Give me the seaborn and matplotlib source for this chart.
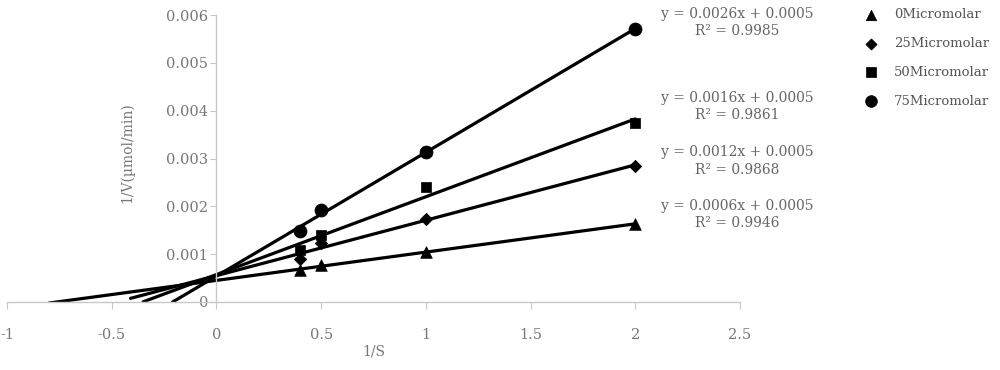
import numpy as np
import pandas as pd
import seaborn as sns
import matplotlib.pyplot as plt

# data
inv_s = [0.4, 0.5, 1, 2]
inv_v_0 = [0.00066, 0.00077, 0.00105, 0.00163]
inv_v_25 = [0.00090, 0.00123, 0.00174, 0.00285]
inv_v_50 = [0.00108, 0.00140, 0.00241, 0.00375]
inv_v_75 = [0.00149, 0.00192, 0.00314, 0.00571]
series_names = ["0Micromolar", "25Micromolar", "50Micromolar", "75Micromolar"]
# trendline backward forecast start (1/S)
line_start = [-0.80, -0.41, -0.35, -0.21]
equations = [
    "y = 0.0006x + 0.0005\nR² = 0.9946",
    "y = 0.0012x + 0.0005\nR² = 0.9868",
    "y = 0.0016x + 0.0005\nR² = 0.9861",
    "y = 0.0026x + 0.0005\nR² = 0.9985",
]

df = pd.DataFrame({
    "1/S": inv_s * 4,
    "1/V": inv_v_0 + inv_v_25 + inv_v_50 + inv_v_75,
    "series": np.repeat(series_names, len(inv_s)),
})

sns.set_style("white")
plt.rcParams["font.family"] = ["DejaVu Serif"]

markers = {"0Micromolar": "^", "25Micromolar": "D", "50Micromolar": "s", "75Micromolar": "o"}
msizes = {"0Micromolar": 70, "25Micromolar": 40, "50Micromolar": 52, "75Micromolar": 88}
eq_y = [0.420, 0.565, 0.712, 0.939]

fig = plt.figure(figsize=(10, 3.7), dpi=100)
ax = fig.add_axes([0.007, 0.184, 0.733, 0.775])

for name, start in zip(series_names, line_start):
    sub = df[df["series"] == name]
    slope, icpt = np.polyfit(sub["1/S"], sub["1/V"], 1)
    xs = np.array([start, sub["1/S"].max()])
    sns.lineplot(x=xs, y=slope * xs + icpt, color="black", lw=2.3, ax=ax, zorder=2)
    sns.scatterplot(data=sub, x="1/S", y="1/V", marker=markers[name], s=msizes[name],
                    color="black", edgecolor="black", linewidth=0.5, ax=ax,
                    label=name, zorder=3, clip_on=False)

ax.set_xlim(-1, 2.5)
ax.set_ylim(0, 0.006)
ax.set_xticks([-1, -0.5, 0, 0.5, 1, 1.5, 2, 2.5])
ax.set_xticklabels(["-1", "-0.5", "0", "0.5", "1", "1.5", "2", "2.5"])
ax.set_yticks([0, 0.001, 0.002, 0.003, 0.004, 0.005, 0.006])
ax.set_yticklabels(["0", "0.001", "0.002", "0.003", "0.004", "0.005", "0.006"])

ax.spines["left"].set_position(("data", 0))
ax.spines["top"].set_visible(False)
ax.spines["right"].set_visible(False)
for sp in ["left", "bottom"]:
    ax.spines[sp].set_color("#c8c8c8")
    ax.spines[sp].set_linewidth(1)

ax.tick_params(axis="x", direction="out", length=5, color="#c8c8c8", pad=14,
               labelsize=10.5, labelcolor="#777777")
ax.tick_params(axis="y", direction="out", length=4, color="#c8c8c8", pad=2,
               labelsize=10.5, labelcolor="#777777")
ax.tick_params(bottom=True, left=True)

ax.set_xlabel("1/S", fontsize=10, color="#777777")
ax.set_ylabel("1/V(µmol/min)", fontsize=10, color="#777777")
ax.xaxis.set_label_coords(0.5, -0.15)
ax.yaxis.set_label_coords(0.174, 0.52)

for txt, yy in zip(equations, eq_y):
    fig.text(0.737, yy, txt, ha="center", va="center", multialignment="center",
             fontsize=10, color="#666666", linespacing=1.3)

handles, labels = ax.get_legend_handles_labels()
leg = ax.legend(handles, labels, loc="upper left", bbox_to_anchor=(0.864, 0.978),
                bbox_transform=fig.transFigure, frameon=False, borderpad=0,
                borderaxespad=0, handlelength=1.0, handletextpad=1.3,
                labelspacing=1.2, fontsize=9.5, markerscale=0.9)
for t in leg.get_texts():
    t.set_color("#555555")

fig.savefig("out.png", dpi=100)
